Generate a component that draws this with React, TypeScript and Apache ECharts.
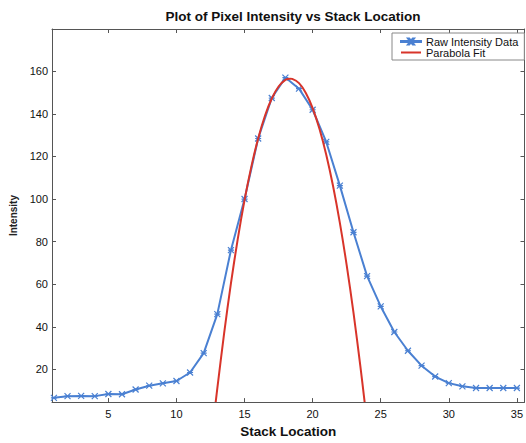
import React, { useEffect, useRef } from "react";
import * as echarts from "echarts";

const stackLocation = [
  1, 2, 3, 4, 5, 6, 7, 8, 9, 10, 11, 12, 13, 14, 15, 16, 17, 18,
  19, 20, 21, 22, 23, 24, 25, 26, 27, 28, 29, 30, 31, 32, 33, 34, 35,
];
const rawIntensity = [
  6.7, 7.5, 7.6, 7.5, 8.5, 8.4, 10.6, 12.4, 13.5, 14.6, 18.6, 27.7, 46, 76,
  100, 128.4, 147.4, 157, 151.8, 141.9, 126.8, 106.3, 84.4, 63.8, 49.6, 37.6,
  28.8, 21.8, 16.7, 13.6, 12.1, 11.3, 11.3, 11.3, 11.3,
];
const fitLocation = [
  12.88, 13, 13.5, 14, 14.5, 15, 15.5, 16, 16.5, 17, 17.5, 18, 18.35, 18.5,
  19, 19.5, 20, 20.5, 21, 21.5, 22, 22.5, 23, 23.5, 23.82,
];
const fitIntensity = [
  4.7, 11.1, 37.0, 60.4, 81.2, 99.5, 115.2, 128.4, 139.1, 147.2, 152.8, 155.9,
  156.5, 156.4, 154.4, 149.8, 142.7, 133.0, 120.8, 106.1, 88.8, 69.0, 46.7,
  21.8, 4.7,
];
const xTicks = [5, 10, 15, 20, 25, 30, 35];
const yTicks = [20, 40, 60, 80, 100, 120, 140, 160];

const BLUE = "#4a80d2";
const RED = "#d8342a";
const AXIS = "#555";
const FONT = "Liberation Sans, Arial, sans-serif";

const BLUE_ICON =
  "path://M0,4.4L20,4.4L20,5.6L0,5.6Z M7,2L8.2,2L13,8L11.8,8Z M11.8,2L13,2L8.2,8L7,8Z";
const RED_ICON = "path://M0,4L20,4L20,6L0,6Z M0,2L0.01,2L0.01,8L0,8Z";

export default function App() {
  const ref = useRef<HTMLDivElement>(null);
  useEffect(() => {
    if (!ref.current) return;
    const chart = echarts.init(ref.current, undefined, { renderer: "svg" });
    const xMin = 0.86,
      xMax = 35.56,
      yMin = 4.7,
      yMax = 179.8;
    const axisLine = { show: true, lineStyle: { color: AXIS, width: 1 } };
    chart.setOption({
      animation: false,
      backgroundColor: "#ffffff",
      textStyle: { fontFamily: FONT },
      title: {
        text: "Plot of Pixel Intensity vs Stack Location",
        left: 288,
        textAlign: "center",
        top: 4,
        textStyle: { fontSize: 13.5, fontWeight: "bold", color: "#111", fontFamily: FONT },
      },
      legend: {
        left: 392,
        top: 33,
        orient: "vertical",
        backgroundColor: "#ffffff",
        borderColor: "#888",
        borderWidth: 1,
        padding: [3, 6, 2, 8],
        itemGap: 0,
        itemWidth: 20,
        itemHeight: 12,
        textStyle: { fontSize: 11, color: "#111", fontFamily: FONT },
        data: [
          { name: "Raw Intensity Data", icon: BLUE_ICON, itemStyle: { color: BLUE } },
          { name: "Parabola Fit", icon: RED_ICON, itemStyle: { color: RED } },
        ],
      },
      grid: { left: 52, top: 29, width: 474, height: 378, containLabel: false },
      xAxis: [
        {
          type: "value",
          position: "bottom",
          min: xMin,
          max: xMax,
          axisLine,
          splitLine: { show: false },
          axisTick: { inside: true, length: 4, customValues: xTicks, lineStyle: { color: AXIS } },
          axisLabel: { customValues: xTicks, fontSize: 11, color: "#111", margin: 6 },
          name: "Stack Location",
          nameLocation: "middle",
          nameGap: 20,
          nameTextStyle: { fontSize: 13.5, fontWeight: "bold", color: "#111" },
        },
        {
          type: "value",
          position: "top",
          min: xMin,
          max: xMax,
          axisLine,
          splitLine: { show: false },
          axisTick: { inside: true, length: 4, customValues: xTicks, lineStyle: { color: AXIS } },
          axisLabel: { show: false },
        },
      ],
      yAxis: [
        {
          type: "value",
          position: "left",
          min: yMin,
          max: yMax,
          axisLine,
          splitLine: { show: false },
          axisTick: { inside: true, length: 4, customValues: yTicks, lineStyle: { color: AXIS } },
          axisLabel: { customValues: yTicks, fontSize: 11, color: "#111", margin: 4 },
          name: "Intensity",
          nameLocation: "middle",
          nameGap: 25,
          nameTextStyle: { fontSize: 10, fontWeight: "bold", color: "#222" },
        },
        {
          type: "value",
          position: "right",
          min: yMin,
          max: yMax,
          axisLine,
          splitLine: { show: false },
          axisTick: { inside: true, length: 4, customValues: yTicks },
          axisLabel: { show: false },
        },
      ],
      series: [
        {
          name: "Raw Intensity Data",
          type: "line",
          data: stackLocation.map((x, i) => [x, rawIntensity[i]]),
          symbol: "path://M0,0L10,10M10,0L0,10M0,5L10,5",
          symbolSize: 6,
          showAllSymbol: true,
          lineStyle: { color: BLUE, width: 2 },
          itemStyle: { color: BLUE, borderColor: BLUE, borderWidth: 1.2 },
          z: 2,
        },
        {
          name: "Parabola Fit",
          type: "line",
          data: fitLocation.map((x, i) => [x, fitIntensity[i]]),
          smooth: 0.3,
          showSymbol: false,
          symbol: "none",
          lineStyle: { color: RED, width: 2 },
          itemStyle: { color: RED },
          z: 3,
        },
      ],
    });
    return () => chart.dispose();
  }, []);
  return (
    <div
      ref={ref}
      style={{ position: "fixed", left: 0, top: 0, width: 526, height: 443 }}
    />
  );
}
